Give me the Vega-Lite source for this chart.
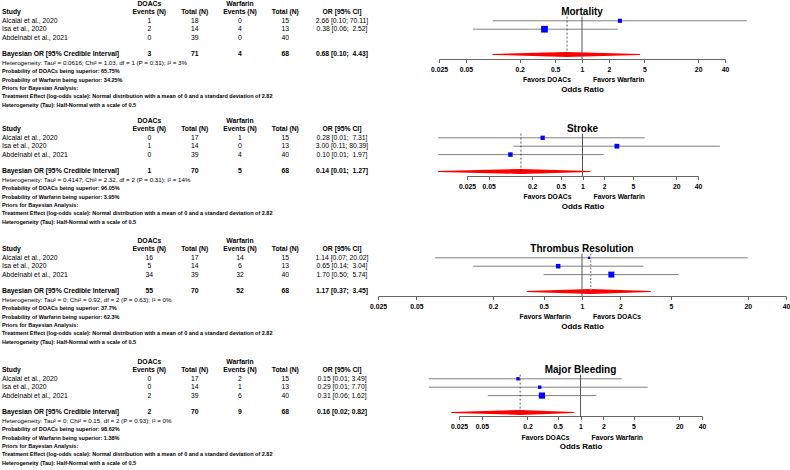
{
"$schema": "https://vega.github.io/schema/vega-lite/v6.json",
"padding": 0,
"background": "white",
"bounds": "flush",
"spacing": 0,
"datasets": {
"hdr": [
{"row":0,"E":"DOACs","F":"Warfarin"},
{"row":1,"S":"Study","E":"Events (N)","T":"Total (N)","F":"Events (N)","U":"Total (N)","C":"OR [95% CI]"}
],
"tbl": [
{"p":1,"row":2,"S":"Alcalai et al., 2020","E":1,"T":18,"F":0,"U":15,"C":"2.66 [0.10; 70.11]"},
{"p":1,"row":3,"S":"Isa et al., 2020","E":2,"T":14,"F":4,"U":13,"C":"0.38 [0.06; \u00a02.52]"},
{"p":1,"row":4,"S":"Abdelnabi et al., 2021","E":0,"T":39,"F":0,"U":40},
{"p":1,"row":6,"S":"Bayesian OR [95% Credible Interval]","E":3,"T":71,"F":4,"U":68,"C":"0.68 [0.10; \u00a04.43]"},
{"p":1,"row":7,"S":"Heterogeneity: Tau² = 0.0616; Chi² = 1.03, df = 1 (P = 0.31); I² = 3%"},
{"p":1,"row":8,"S":"Probability of DOACs being superior: 65.75%"},
{"p":1,"row":9,"S":"Probability of Warfarin being superior: 34.25%"},
{"p":2,"row":2,"S":"Alcalai et al., 2020","E":0,"T":17,"F":1,"U":15,"C":"0.28 [0.01; \u00a07.31]"},
{"p":2,"row":3,"S":"Isa et al., 2020","E":1,"T":14,"F":0,"U":13,"C":"3.00 [0.11; 80.39]"},
{"p":2,"row":4,"S":"Abdelnabi et al., 2021","E":0,"T":39,"F":4,"U":40,"C":"0.10 [0.01; \u00a01.97]"},
{"p":2,"row":6,"S":"Bayesian OR [95% Credible Interval]","E":1,"T":70,"F":5,"U":68,"C":"0.14 [0.01; \u00a01.27]"},
{"p":2,"row":7,"S":"Heterogeneity: Tau² = 0.4147; Chi² = 2.32, df = 2 (P = 0.31); I² = 14%"},
{"p":2,"row":8,"S":"Probability of DOACs being superior: 96.05%"},
{"p":2,"row":9,"S":"Probability of Warfarin being superior: 3.95%"},
{"p":3,"row":2,"S":"Alcalai et al., 2020","E":16,"T":17,"F":14,"U":15,"C":"1.14 [0.07; 20.02]"},
{"p":3,"row":3,"S":"Isa et al., 2020","E":5,"T":14,"F":6,"U":13,"C":"0.65 [0.14; \u00a03.04]"},
{"p":3,"row":4,"S":"Abdelnabi et al., 2021","E":34,"T":39,"F":32,"U":40,"C":"1.70 [0.50; \u00a05.74]"},
{"p":3,"row":6,"S":"Bayesian OR [95% Credible Interval]","E":55,"T":70,"F":52,"U":68,"C":"1.17 [0.37; \u00a03.45]"},
{"p":3,"row":7,"S":"Heterogeneity: Tau² = 0; Chi² = 0.92, df = 2 (P = 0.63); I² = 0%"},
{"p":3,"row":8,"S":"Probability of DOACs being superior: 37.7%"},
{"p":3,"row":9,"S":"Probability of Warfarin being superior: 62.3%"},
{"p":4,"row":2,"S":"Alcalai et al., 2020","E":0,"T":17,"F":2,"U":15,"C":"0.15 [0.01; 3.49]"},
{"p":4,"row":3,"S":"Isa et al., 2020","E":0,"T":14,"F":1,"U":13,"C":"0.29 [0.01; 7.70]"},
{"p":4,"row":4,"S":"Abdelnabi et al., 2021","E":2,"T":39,"F":6,"U":40,"C":"0.31 [0.06; 1.62]"},
{"p":4,"row":6,"S":"Bayesian OR [95% Credible Interval]","E":2,"T":70,"F":9,"U":68,"C":"0.16 [0.02; 0.82]"},
{"p":4,"row":7,"S":"Heterogeneity: Tau² = 0; Chi² = 0.15, df = 2 (P = 0.93); I² = 0%"},
{"p":4,"row":8,"S":"Probability of DOACs being superior: 98.62%"},
{"p":4,"row":9,"S":"Probability of Warfarin being superior: 1.38%"}
],
"foot": [
{"row":10,"S":"Priors for Bayesian Analysis:"},
{"row":11,"S":"Treatment Effect (log-odds scale): Normal distribution with a mean of 0 and a standard deviation of 2.82"},
{"row":12,"S":"Heterogeneity (Tau): Half-Normal with a scale of 0.5"}
],
"studies": [
{"p":1,"row":2,"or":2.66,"lo":0.10,"hi":70.11,"w":27},
{"p":1,"row":3,"or":0.38,"lo":0.06,"hi":2.52,"w":73},
{"p":2,"row":2,"or":0.28,"lo":0.01,"hi":7.31,"w":30},
{"p":2,"row":3,"or":3.00,"lo":0.11,"hi":80.39,"w":37},
{"p":2,"row":4,"or":0.10,"lo":0.01,"hi":1.97,"w":33},
{"p":3,"row":2,"or":1.14,"lo":0.07,"hi":20.02,"w":9},
{"p":3,"row":3,"or":0.65,"lo":0.14,"hi":3.04,"w":33},
{"p":3,"row":4,"or":1.70,"lo":0.50,"hi":5.74,"w":58},
{"p":4,"row":2,"or":0.15,"lo":0.01,"hi":3.49,"w":19},
{"p":4,"row":3,"or":0.29,"lo":0.01,"hi":7.70,"w":19},
{"p":4,"row":4,"or":0.31,"lo":0.06,"hi":1.62,"w":62}
],
"pooled": [
{"p":1,"row":6,"outcome":"Mortality","or":0.68,"lo":0.10,"hi":4.43,"favL":"Favors DOACs","favR":"Favors Warfarin"},
{"p":2,"row":6,"outcome":"Stroke","or":0.14,"lo":0.01,"hi":1.27,"favL":"Favors DOACs","favR":"Favors Warfarin"},
{"p":3,"row":6,"outcome":"Thrombus Resolution","or":1.17,"lo":0.37,"hi":3.45,"favL":"Favors Warfarin","favR":"Favors DOACs"},
{"p":4,"row":6,"outcome":"Major Bleeding","or":0.16,"lo":0.02,"hi":0.82,"favL":"Favors DOACs","favR":"Favors Warfarin"}
]
},
"vconcat": [
{
"width": 790, "height": 117,
"resolve": {"scale": {"x": "independent"}},
"layer": [
{"layer": [
{"data":{"name":"hdr"},"transform":[{"filter":"datum.S != null"}],"mark":{"type":"text","align":"left","fontWeight":"bold","fontSize":6.8},"encoding":{"x":{"datum":"S","type":"nominal","scale":{"type":"point","domain":["S","a","b","c","d","e","f","g","h","i","j","k","l","E","m","n","o","T","p","q","r","F","s","t","u","U","v","w","x","y","C"],"range":[2,342],"padding":0},"axis":null},"y":{"field":"row","type":"quantitative","scale":{"domain":[0,12],"range":[4,104.8],"nice":false,"zero":false},"axis":null},"text":{"field":"S","type":"nominal"}}},
{"data":{"name":"hdr"},"transform":[{"fold":["E","T","F","U","C"],"as":["col","txt"]},{"filter":"datum.txt != null"}],"mark":{"type":"text","fontWeight":"bold","fontSize":6.8},"encoding":{"x":{"field":"col","type":"nominal","scale":{"type":"point","domain":["S","a","b","c","d","e","f","g","h","i","j","k","l","E","m","n","o","T","p","q","r","F","s","t","u","U","v","w","x","y","C"],"range":[2,342],"padding":0},"axis":null},"y":{"field":"row","type":"quantitative","scale":{"domain":[0,12],"range":[4,104.8],"nice":false,"zero":false},"axis":null},"text":{"field":"txt","type":"nominal"}}},
{"data":{"name":"tbl"},"transform":[{"filter":"datum.p == 1 && datum.row < 5"}],"mark":{"type":"text","align":"left","fontSize":6.8},"encoding":{"x":{"datum":"S","type":"nominal","scale":{"type":"point","domain":["S","a","b","c","d","e","f","g","h","i","j","k","l","E","m","n","o","T","p","q","r","F","s","t","u","U","v","w","x","y","C"],"range":[2,342],"padding":0},"axis":null},"y":{"field":"row","type":"quantitative","scale":{"domain":[0,12],"range":[4,104.8],"nice":false,"zero":false},"axis":null},"text":{"field":"S","type":"nominal"}}},
{"data":{"name":"tbl"},"transform":[{"filter":"datum.p == 1 && datum.row < 5"},{"fold":["E","T","F","U","C"],"as":["col","txt"]},{"filter":"datum.txt != null"}],"mark":{"type":"text","fontSize":6.8},"encoding":{"x":{"field":"col","type":"nominal","scale":{"type":"point","domain":["S","a","b","c","d","e","f","g","h","i","j","k","l","E","m","n","o","T","p","q","r","F","s","t","u","U","v","w","x","y","C"],"range":[2,342],"padding":0},"axis":null},"y":{"field":"row","type":"quantitative","scale":{"domain":[0,12],"range":[4,104.8],"nice":false,"zero":false},"axis":null},"text":{"field":"txt","type":"nominal"}}},
{"data":{"name":"tbl"},"transform":[{"filter":"datum.p == 1 && datum.row == 6"}],"mark":{"type":"text","align":"left","fontWeight":"bold","fontSize":6.8},"encoding":{"x":{"datum":"S","type":"nominal","scale":{"type":"point","domain":["S","a","b","c","d","e","f","g","h","i","j","k","l","E","m","n","o","T","p","q","r","F","s","t","u","U","v","w","x","y","C"],"range":[2,342],"padding":0},"axis":null},"y":{"field":"row","type":"quantitative","scale":{"domain":[0,12],"range":[4,104.8],"nice":false,"zero":false},"axis":null},"text":{"field":"S","type":"nominal"}}},
{"data":{"name":"tbl"},"transform":[{"filter":"datum.p == 1 && datum.row == 6"},{"fold":["E","T","F","U","C"],"as":["col","txt"]},{"filter":"datum.txt != null"}],"mark":{"type":"text","fontWeight":"bold","fontSize":6.8},"encoding":{"x":{"field":"col","type":"nominal","scale":{"type":"point","domain":["S","a","b","c","d","e","f","g","h","i","j","k","l","E","m","n","o","T","p","q","r","F","s","t","u","U","v","w","x","y","C"],"range":[2,342],"padding":0},"axis":null},"y":{"field":"row","type":"quantitative","scale":{"domain":[0,12],"range":[4,104.8],"nice":false,"zero":false},"axis":null},"text":{"field":"txt","type":"nominal"}}},
{"data":{"name":"tbl"},"transform":[{"filter":"datum.p == 1 && datum.row == 7"}],"mark":{"type":"text","align":"left","fontSize":6.2},"encoding":{"x":{"datum":"S","type":"nominal","scale":{"type":"point","domain":["S","a","b","c","d","e","f","g","h","i","j","k","l","E","m","n","o","T","p","q","r","F","s","t","u","U","v","w","x","y","C"],"range":[2,342],"padding":0},"axis":null},"y":{"field":"row","type":"quantitative","scale":{"domain":[0,12],"range":[4,104.8],"nice":false,"zero":false},"axis":null},"text":{"field":"S","type":"nominal"}}},
{"data":{"name":"tbl"},"transform":[{"filter":"datum.p == 1 && datum.row > 7"}],"mark":{"type":"text","align":"left","fontWeight":"bold","fontSize":5.5},"encoding":{"x":{"datum":"S","type":"nominal","scale":{"type":"point","domain":["S","a","b","c","d","e","f","g","h","i","j","k","l","E","m","n","o","T","p","q","r","F","s","t","u","U","v","w","x","y","C"],"range":[2,342],"padding":0},"axis":null},"y":{"field":"row","type":"quantitative","scale":{"domain":[0,12],"range":[4,104.8],"nice":false,"zero":false},"axis":null},"text":{"field":"S","type":"nominal"}}},
{"data":{"name":"foot"},"mark":{"type":"text","align":"left","fontWeight":"bold","fontSize":5.5},"encoding":{"x":{"datum":"S","type":"nominal","scale":{"type":"point","domain":["S","a","b","c","d","e","f","g","h","i","j","k","l","E","m","n","o","T","p","q","r","F","s","t","u","U","v","w","x","y","C"],"range":[2,342],"padding":0},"axis":null},"y":{"field":"row","type":"quantitative","scale":{"domain":[0,12],"range":[4,104.8],"nice":false,"zero":false},"axis":null},"text":{"field":"S","type":"nominal"}}}
]},
{"layer": [
{"data":{"name":"studies"},"transform":[{"filter":"datum.p == 1"}],"mark":{"type":"rule","color":"#808080"},"encoding":{"x":{"field":"lo","type":"quantitative","scale":{"type":"log","domain":[0.025,40],"range":[439,725],"nice":false},"axis":{"orient":"bottom","offset":-58,"values":[0.025,0.05,0.2,0.5,1,2,5,20,40],"format":"~g","title":"Odds Ratio"}},"x2":{"field":"hi"},"y":{"field":"row","type":"quantitative","scale":{"domain":[0,12],"range":[4,104.8],"nice":false,"zero":false},"axis":null}}},
{"data":{"name":"studies"},"transform":[{"filter":"datum.p == 1"}],"mark":{"type":"point","shape":"square","filled":true,"color":"#0000ff","opacity":1},"encoding":{"x":{"field":"or","type":"quantitative","scale":{"type":"log","domain":[0.025,40],"range":[439,725],"nice":false}},"y":{"field":"row","type":"quantitative","scale":{"domain":[0,12],"range":[4,104.8],"nice":false,"zero":false},"axis":null},"size":{"field":"w","type":"quantitative","scale":{"zero":true,"nice":false,"range":[0,45]},"legend":null}}},
{"data":{"name":"pooled"},"transform":[{"filter":"datum.p == 1"},{"fold":["lo","or","hi"],"as":["k","v"]}],"mark":{"type":"trail","color":"#ff0000"},"encoding":{"x":{"field":"v","type":"quantitative","scale":{"type":"log","domain":[0.025,40],"range":[439,725],"nice":false}},"y":{"field":"row","type":"quantitative","scale":{"domain":[0,12],"range":[4,104.8],"nice":false,"zero":false},"axis":null},"size":{"condition":{"test":"datum.k === 'or'","value":5},"value":0}}},
{"data":{"name":"pooled"},"transform":[{"filter":"datum.p == 1"}],"mark":{"type":"rule","color":"#333333","strokeDash":[2,2],"strokeWidth":0.8},"encoding":{"x":{"field":"or","type":"quantitative","scale":{"type":"log","domain":[0.025,40],"range":[439,725],"nice":false}},"y":{"datum":1.5,"type":"quantitative","scale":{"domain":[0,12],"range":[4,104.8],"nice":false,"zero":false},"axis":null},"y2":{"datum":6}}},
{"data":{"name":"pooled"},"transform":[{"filter":"datum.p == 1"}],"mark":{"type":"rule","color":"#555555"},"encoding":{"x":{"datum":1,"type":"quantitative","scale":{"type":"log","domain":[0.025,40],"range":[439,725],"nice":false}},"y":{"datum":1.5,"type":"quantitative","scale":{"domain":[0,12],"range":[4,104.8],"nice":false,"zero":false},"axis":null},"y2":{"datum":6.55}}},
{"data":{"name":"pooled"},"transform":[{"filter":"datum.p == 1"}],"mark":{"type":"text","fontSize":10,"fontWeight":"bold"},"encoding":{"x":{"datum":1,"type":"quantitative","scale":{"type":"log","domain":[0.025,40],"range":[439,725],"nice":false}},"y":{"datum":1,"type":"quantitative","scale":{"domain":[0,12],"range":[4,104.8],"nice":false,"zero":false},"axis":null},"text":{"field":"outcome","type":"nominal"}}},
{"data":{"name":"pooled"},"transform":[{"filter":"datum.p == 1"}],"mark":{"type":"text","align":"right","dx":-11,"fontSize":6.8,"fontWeight":"bold"},"encoding":{"x":{"datum":1,"type":"quantitative","scale":{"type":"log","domain":[0.025,40],"range":[439,725],"nice":false}},"y":{"datum":9,"type":"quantitative","scale":{"domain":[0,12],"range":[4,104.8],"nice":false,"zero":false},"axis":null},"text":{"field":"favL","type":"nominal"}}},
{"data":{"name":"pooled"},"transform":[{"filter":"datum.p == 1"}],"mark":{"type":"text","align":"left","dx":11,"fontSize":6.8,"fontWeight":"bold"},"encoding":{"x":{"datum":1,"type":"quantitative","scale":{"type":"log","domain":[0.025,40],"range":[439,725],"nice":false}},"y":{"datum":9,"type":"quantitative","scale":{"domain":[0,12],"range":[4,104.8],"nice":false,"zero":false},"axis":null},"text":{"field":"favR","type":"nominal"}}}
]}
]
},
{
"width": 790, "height": 120,
"resolve": {"scale": {"x": "independent"}},
"layer": [
{"layer": [
{"data":{"name":"hdr"},"transform":[{"filter":"datum.S != null"}],"mark":{"type":"text","align":"left","fontWeight":"bold","fontSize":6.8},"encoding":{"x":{"datum":"S","type":"nominal","scale":{"type":"point","domain":["S","a","b","c","d","e","f","g","h","i","j","k","l","E","m","n","o","T","p","q","r","F","s","t","u","U","v","w","x","y","C"],"range":[2,342],"padding":0},"axis":null},"y":{"field":"row","type":"quantitative","scale":{"domain":[0,12],"range":[4,104.8],"nice":false,"zero":false},"axis":null},"text":{"field":"S","type":"nominal"}}},
{"data":{"name":"hdr"},"transform":[{"fold":["E","T","F","U","C"],"as":["col","txt"]},{"filter":"datum.txt != null"}],"mark":{"type":"text","fontWeight":"bold","fontSize":6.8},"encoding":{"x":{"field":"col","type":"nominal","scale":{"type":"point","domain":["S","a","b","c","d","e","f","g","h","i","j","k","l","E","m","n","o","T","p","q","r","F","s","t","u","U","v","w","x","y","C"],"range":[2,342],"padding":0},"axis":null},"y":{"field":"row","type":"quantitative","scale":{"domain":[0,12],"range":[4,104.8],"nice":false,"zero":false},"axis":null},"text":{"field":"txt","type":"nominal"}}},
{"data":{"name":"tbl"},"transform":[{"filter":"datum.p == 2 && datum.row < 5"}],"mark":{"type":"text","align":"left","fontSize":6.8},"encoding":{"x":{"datum":"S","type":"nominal","scale":{"type":"point","domain":["S","a","b","c","d","e","f","g","h","i","j","k","l","E","m","n","o","T","p","q","r","F","s","t","u","U","v","w","x","y","C"],"range":[2,342],"padding":0},"axis":null},"y":{"field":"row","type":"quantitative","scale":{"domain":[0,12],"range":[4,104.8],"nice":false,"zero":false},"axis":null},"text":{"field":"S","type":"nominal"}}},
{"data":{"name":"tbl"},"transform":[{"filter":"datum.p == 2 && datum.row < 5"},{"fold":["E","T","F","U","C"],"as":["col","txt"]},{"filter":"datum.txt != null"}],"mark":{"type":"text","fontSize":6.8},"encoding":{"x":{"field":"col","type":"nominal","scale":{"type":"point","domain":["S","a","b","c","d","e","f","g","h","i","j","k","l","E","m","n","o","T","p","q","r","F","s","t","u","U","v","w","x","y","C"],"range":[2,342],"padding":0},"axis":null},"y":{"field":"row","type":"quantitative","scale":{"domain":[0,12],"range":[4,104.8],"nice":false,"zero":false},"axis":null},"text":{"field":"txt","type":"nominal"}}},
{"data":{"name":"tbl"},"transform":[{"filter":"datum.p == 2 && datum.row == 6"}],"mark":{"type":"text","align":"left","fontWeight":"bold","fontSize":6.8},"encoding":{"x":{"datum":"S","type":"nominal","scale":{"type":"point","domain":["S","a","b","c","d","e","f","g","h","i","j","k","l","E","m","n","o","T","p","q","r","F","s","t","u","U","v","w","x","y","C"],"range":[2,342],"padding":0},"axis":null},"y":{"field":"row","type":"quantitative","scale":{"domain":[0,12],"range":[4,104.8],"nice":false,"zero":false},"axis":null},"text":{"field":"S","type":"nominal"}}},
{"data":{"name":"tbl"},"transform":[{"filter":"datum.p == 2 && datum.row == 6"},{"fold":["E","T","F","U","C"],"as":["col","txt"]},{"filter":"datum.txt != null"}],"mark":{"type":"text","fontWeight":"bold","fontSize":6.8},"encoding":{"x":{"field":"col","type":"nominal","scale":{"type":"point","domain":["S","a","b","c","d","e","f","g","h","i","j","k","l","E","m","n","o","T","p","q","r","F","s","t","u","U","v","w","x","y","C"],"range":[2,342],"padding":0},"axis":null},"y":{"field":"row","type":"quantitative","scale":{"domain":[0,12],"range":[4,104.8],"nice":false,"zero":false},"axis":null},"text":{"field":"txt","type":"nominal"}}},
{"data":{"name":"tbl"},"transform":[{"filter":"datum.p == 2 && datum.row == 7"}],"mark":{"type":"text","align":"left","fontSize":6.2},"encoding":{"x":{"datum":"S","type":"nominal","scale":{"type":"point","domain":["S","a","b","c","d","e","f","g","h","i","j","k","l","E","m","n","o","T","p","q","r","F","s","t","u","U","v","w","x","y","C"],"range":[2,342],"padding":0},"axis":null},"y":{"field":"row","type":"quantitative","scale":{"domain":[0,12],"range":[4,104.8],"nice":false,"zero":false},"axis":null},"text":{"field":"S","type":"nominal"}}},
{"data":{"name":"tbl"},"transform":[{"filter":"datum.p == 2 && datum.row > 7"}],"mark":{"type":"text","align":"left","fontWeight":"bold","fontSize":5.5},"encoding":{"x":{"datum":"S","type":"nominal","scale":{"type":"point","domain":["S","a","b","c","d","e","f","g","h","i","j","k","l","E","m","n","o","T","p","q","r","F","s","t","u","U","v","w","x","y","C"],"range":[2,342],"padding":0},"axis":null},"y":{"field":"row","type":"quantitative","scale":{"domain":[0,12],"range":[4,104.8],"nice":false,"zero":false},"axis":null},"text":{"field":"S","type":"nominal"}}},
{"data":{"name":"foot"},"mark":{"type":"text","align":"left","fontWeight":"bold","fontSize":5.5},"encoding":{"x":{"datum":"S","type":"nominal","scale":{"type":"point","domain":["S","a","b","c","d","e","f","g","h","i","j","k","l","E","m","n","o","T","p","q","r","F","s","t","u","U","v","w","x","y","C"],"range":[2,342],"padding":0},"axis":null},"y":{"field":"row","type":"quantitative","scale":{"domain":[0,12],"range":[4,104.8],"nice":false,"zero":false},"axis":null},"text":{"field":"S","type":"nominal"}}}
]},
{"layer": [
{"data":{"name":"studies"},"transform":[{"filter":"datum.p == 2"}],"mark":{"type":"rule","color":"#808080"},"encoding":{"x":{"field":"lo","type":"quantitative","scale":{"type":"log","domain":[0.025,40],"range":[467,698],"nice":false},"axis":{"orient":"bottom","offset":-61,"values":[0.025,0.05,0.2,0.5,1,2,5,20,40],"format":"~g","title":"Odds Ratio"}},"x2":{"field":"hi"},"y":{"field":"row","type":"quantitative","scale":{"domain":[0,12],"range":[4,104.8],"nice":false,"zero":false},"axis":null}}},
{"data":{"name":"studies"},"transform":[{"filter":"datum.p == 2"}],"mark":{"type":"point","shape":"square","filled":true,"color":"#0000ff","opacity":1},"encoding":{"x":{"field":"or","type":"quantitative","scale":{"type":"log","domain":[0.025,40],"range":[467,698],"nice":false}},"y":{"field":"row","type":"quantitative","scale":{"domain":[0,12],"range":[4,104.8],"nice":false,"zero":false},"axis":null},"size":{"field":"w","type":"quantitative","scale":{"zero":true,"nice":false,"range":[0,45]},"legend":null}}},
{"data":{"name":"pooled"},"transform":[{"filter":"datum.p == 2"},{"fold":["lo","or","hi"],"as":["k","v"]}],"mark":{"type":"trail","color":"#ff0000"},"encoding":{"x":{"field":"v","type":"quantitative","scale":{"type":"log","domain":[0.025,40],"range":[467,698],"nice":false}},"y":{"field":"row","type":"quantitative","scale":{"domain":[0,12],"range":[4,104.8],"nice":false,"zero":false},"axis":null},"size":{"condition":{"test":"datum.k === 'or'","value":5},"value":0}}},
{"data":{"name":"pooled"},"transform":[{"filter":"datum.p == 2"}],"mark":{"type":"rule","color":"#333333","strokeDash":[2,2],"strokeWidth":0.8},"encoding":{"x":{"field":"or","type":"quantitative","scale":{"type":"log","domain":[0.025,40],"range":[467,698],"nice":false}},"y":{"datum":1.5,"type":"quantitative","scale":{"domain":[0,12],"range":[4,104.8],"nice":false,"zero":false},"axis":null},"y2":{"datum":6}}},
{"data":{"name":"pooled"},"transform":[{"filter":"datum.p == 2"}],"mark":{"type":"rule","color":"#555555"},"encoding":{"x":{"datum":1,"type":"quantitative","scale":{"type":"log","domain":[0.025,40],"range":[467,698],"nice":false}},"y":{"datum":1.5,"type":"quantitative","scale":{"domain":[0,12],"range":[4,104.8],"nice":false,"zero":false},"axis":null},"y2":{"datum":6.55}}},
{"data":{"name":"pooled"},"transform":[{"filter":"datum.p == 2"}],"mark":{"type":"text","fontSize":10,"fontWeight":"bold"},"encoding":{"x":{"datum":1,"type":"quantitative","scale":{"type":"log","domain":[0.025,40],"range":[467,698],"nice":false}},"y":{"datum":1,"type":"quantitative","scale":{"domain":[0,12],"range":[4,104.8],"nice":false,"zero":false},"axis":null},"text":{"field":"outcome","type":"nominal"}}},
{"data":{"name":"pooled"},"transform":[{"filter":"datum.p == 2"}],"mark":{"type":"text","align":"right","dx":-11,"fontSize":6.8,"fontWeight":"bold"},"encoding":{"x":{"datum":1,"type":"quantitative","scale":{"type":"log","domain":[0.025,40],"range":[467,698],"nice":false}},"y":{"datum":9,"type":"quantitative","scale":{"domain":[0,12],"range":[4,104.8],"nice":false,"zero":false},"axis":null},"text":{"field":"favL","type":"nominal"}}},
{"data":{"name":"pooled"},"transform":[{"filter":"datum.p == 2"}],"mark":{"type":"text","align":"left","dx":11,"fontSize":6.8,"fontWeight":"bold"},"encoding":{"x":{"datum":1,"type":"quantitative","scale":{"type":"log","domain":[0.025,40],"range":[467,698],"nice":false}},"y":{"datum":9,"type":"quantitative","scale":{"domain":[0,12],"range":[4,104.8],"nice":false,"zero":false},"axis":null},"text":{"field":"favR","type":"nominal"}}}
]}
]
},
{
"width": 790, "height": 121,
"resolve": {"scale": {"x": "independent"}},
"layer": [
{"layer": [
{"data":{"name":"hdr"},"transform":[{"filter":"datum.S != null"}],"mark":{"type":"text","align":"left","fontWeight":"bold","fontSize":6.8},"encoding":{"x":{"datum":"S","type":"nominal","scale":{"type":"point","domain":["S","a","b","c","d","e","f","g","h","i","j","k","l","E","m","n","o","T","p","q","r","F","s","t","u","U","v","w","x","y","C"],"range":[2,342],"padding":0},"axis":null},"y":{"field":"row","type":"quantitative","scale":{"domain":[0,12],"range":[4,104.8],"nice":false,"zero":false},"axis":null},"text":{"field":"S","type":"nominal"}}},
{"data":{"name":"hdr"},"transform":[{"fold":["E","T","F","U","C"],"as":["col","txt"]},{"filter":"datum.txt != null"}],"mark":{"type":"text","fontWeight":"bold","fontSize":6.8},"encoding":{"x":{"field":"col","type":"nominal","scale":{"type":"point","domain":["S","a","b","c","d","e","f","g","h","i","j","k","l","E","m","n","o","T","p","q","r","F","s","t","u","U","v","w","x","y","C"],"range":[2,342],"padding":0},"axis":null},"y":{"field":"row","type":"quantitative","scale":{"domain":[0,12],"range":[4,104.8],"nice":false,"zero":false},"axis":null},"text":{"field":"txt","type":"nominal"}}},
{"data":{"name":"tbl"},"transform":[{"filter":"datum.p == 3 && datum.row < 5"}],"mark":{"type":"text","align":"left","fontSize":6.8},"encoding":{"x":{"datum":"S","type":"nominal","scale":{"type":"point","domain":["S","a","b","c","d","e","f","g","h","i","j","k","l","E","m","n","o","T","p","q","r","F","s","t","u","U","v","w","x","y","C"],"range":[2,342],"padding":0},"axis":null},"y":{"field":"row","type":"quantitative","scale":{"domain":[0,12],"range":[4,104.8],"nice":false,"zero":false},"axis":null},"text":{"field":"S","type":"nominal"}}},
{"data":{"name":"tbl"},"transform":[{"filter":"datum.p == 3 && datum.row < 5"},{"fold":["E","T","F","U","C"],"as":["col","txt"]},{"filter":"datum.txt != null"}],"mark":{"type":"text","fontSize":6.8},"encoding":{"x":{"field":"col","type":"nominal","scale":{"type":"point","domain":["S","a","b","c","d","e","f","g","h","i","j","k","l","E","m","n","o","T","p","q","r","F","s","t","u","U","v","w","x","y","C"],"range":[2,342],"padding":0},"axis":null},"y":{"field":"row","type":"quantitative","scale":{"domain":[0,12],"range":[4,104.8],"nice":false,"zero":false},"axis":null},"text":{"field":"txt","type":"nominal"}}},
{"data":{"name":"tbl"},"transform":[{"filter":"datum.p == 3 && datum.row == 6"}],"mark":{"type":"text","align":"left","fontWeight":"bold","fontSize":6.8},"encoding":{"x":{"datum":"S","type":"nominal","scale":{"type":"point","domain":["S","a","b","c","d","e","f","g","h","i","j","k","l","E","m","n","o","T","p","q","r","F","s","t","u","U","v","w","x","y","C"],"range":[2,342],"padding":0},"axis":null},"y":{"field":"row","type":"quantitative","scale":{"domain":[0,12],"range":[4,104.8],"nice":false,"zero":false},"axis":null},"text":{"field":"S","type":"nominal"}}},
{"data":{"name":"tbl"},"transform":[{"filter":"datum.p == 3 && datum.row == 6"},{"fold":["E","T","F","U","C"],"as":["col","txt"]},{"filter":"datum.txt != null"}],"mark":{"type":"text","fontWeight":"bold","fontSize":6.8},"encoding":{"x":{"field":"col","type":"nominal","scale":{"type":"point","domain":["S","a","b","c","d","e","f","g","h","i","j","k","l","E","m","n","o","T","p","q","r","F","s","t","u","U","v","w","x","y","C"],"range":[2,342],"padding":0},"axis":null},"y":{"field":"row","type":"quantitative","scale":{"domain":[0,12],"range":[4,104.8],"nice":false,"zero":false},"axis":null},"text":{"field":"txt","type":"nominal"}}},
{"data":{"name":"tbl"},"transform":[{"filter":"datum.p == 3 && datum.row == 7"}],"mark":{"type":"text","align":"left","fontSize":6.2},"encoding":{"x":{"datum":"S","type":"nominal","scale":{"type":"point","domain":["S","a","b","c","d","e","f","g","h","i","j","k","l","E","m","n","o","T","p","q","r","F","s","t","u","U","v","w","x","y","C"],"range":[2,342],"padding":0},"axis":null},"y":{"field":"row","type":"quantitative","scale":{"domain":[0,12],"range":[4,104.8],"nice":false,"zero":false},"axis":null},"text":{"field":"S","type":"nominal"}}},
{"data":{"name":"tbl"},"transform":[{"filter":"datum.p == 3 && datum.row > 7"}],"mark":{"type":"text","align":"left","fontWeight":"bold","fontSize":5.5},"encoding":{"x":{"datum":"S","type":"nominal","scale":{"type":"point","domain":["S","a","b","c","d","e","f","g","h","i","j","k","l","E","m","n","o","T","p","q","r","F","s","t","u","U","v","w","x","y","C"],"range":[2,342],"padding":0},"axis":null},"y":{"field":"row","type":"quantitative","scale":{"domain":[0,12],"range":[4,104.8],"nice":false,"zero":false},"axis":null},"text":{"field":"S","type":"nominal"}}},
{"data":{"name":"foot"},"mark":{"type":"text","align":"left","fontWeight":"bold","fontSize":5.5},"encoding":{"x":{"datum":"S","type":"nominal","scale":{"type":"point","domain":["S","a","b","c","d","e","f","g","h","i","j","k","l","E","m","n","o","T","p","q","r","F","s","t","u","U","v","w","x","y","C"],"range":[2,342],"padding":0},"axis":null},"y":{"field":"row","type":"quantitative","scale":{"domain":[0,12],"range":[4,104.8],"nice":false,"zero":false},"axis":null},"text":{"field":"S","type":"nominal"}}}
]},
{"layer": [
{"data":{"name":"studies"},"transform":[{"filter":"datum.p == 3"}],"mark":{"type":"rule","color":"#808080"},"encoding":{"x":{"field":"lo","type":"quantitative","scale":{"type":"log","domain":[0.025,40],"range":[378,786],"nice":false},"axis":{"orient":"bottom","offset":-62,"values":[0.025,0.05,0.2,0.5,1,2,5,20,40],"format":"~g","title":"Odds Ratio"}},"x2":{"field":"hi"},"y":{"field":"row","type":"quantitative","scale":{"domain":[0,12],"range":[4,104.8],"nice":false,"zero":false},"axis":null}}},
{"data":{"name":"studies"},"transform":[{"filter":"datum.p == 3"}],"mark":{"type":"point","shape":"square","filled":true,"color":"#0000ff","opacity":1},"encoding":{"x":{"field":"or","type":"quantitative","scale":{"type":"log","domain":[0.025,40],"range":[378,786],"nice":false}},"y":{"field":"row","type":"quantitative","scale":{"domain":[0,12],"range":[4,104.8],"nice":false,"zero":false},"axis":null},"size":{"field":"w","type":"quantitative","scale":{"zero":true,"nice":false,"range":[0,45]},"legend":null}}},
{"data":{"name":"pooled"},"transform":[{"filter":"datum.p == 3"},{"fold":["lo","or","hi"],"as":["k","v"]}],"mark":{"type":"trail","color":"#ff0000"},"encoding":{"x":{"field":"v","type":"quantitative","scale":{"type":"log","domain":[0.025,40],"range":[378,786],"nice":false}},"y":{"field":"row","type":"quantitative","scale":{"domain":[0,12],"range":[4,104.8],"nice":false,"zero":false},"axis":null},"size":{"condition":{"test":"datum.k === 'or'","value":5},"value":0}}},
{"data":{"name":"pooled"},"transform":[{"filter":"datum.p == 3"}],"mark":{"type":"rule","color":"#999999","strokeDash":[2,1.5],"strokeWidth":1.5},"encoding":{"x":{"field":"or","type":"quantitative","scale":{"type":"log","domain":[0.025,40],"range":[378,786],"nice":false}},"y":{"datum":1.5,"type":"quantitative","scale":{"domain":[0,12],"range":[4,104.8],"nice":false,"zero":false},"axis":null},"y2":{"datum":6}}},
{"data":{"name":"pooled"},"transform":[{"filter":"datum.p == 3"}],"mark":{"type":"rule","color":"#555555"},"encoding":{"x":{"datum":1,"type":"quantitative","scale":{"type":"log","domain":[0.025,40],"range":[378,786],"nice":false}},"y":{"datum":1.5,"type":"quantitative","scale":{"domain":[0,12],"range":[4,104.8],"nice":false,"zero":false},"axis":null},"y2":{"datum":6.55}}},
{"data":{"name":"pooled"},"transform":[{"filter":"datum.p == 3"}],"mark":{"type":"text","fontSize":10,"fontWeight":"bold"},"encoding":{"x":{"datum":1,"type":"quantitative","scale":{"type":"log","domain":[0.025,40],"range":[378,786],"nice":false}},"y":{"datum":1,"type":"quantitative","scale":{"domain":[0,12],"range":[4,104.8],"nice":false,"zero":false},"axis":null},"text":{"field":"outcome","type":"nominal"}}},
{"data":{"name":"pooled"},"transform":[{"filter":"datum.p == 3"}],"mark":{"type":"text","align":"right","dx":-11,"fontSize":6.8,"fontWeight":"bold"},"encoding":{"x":{"datum":1,"type":"quantitative","scale":{"type":"log","domain":[0.025,40],"range":[378,786],"nice":false}},"y":{"datum":9,"type":"quantitative","scale":{"domain":[0,12],"range":[4,104.8],"nice":false,"zero":false},"axis":null},"text":{"field":"favL","type":"nominal"}}},
{"data":{"name":"pooled"},"transform":[{"filter":"datum.p == 3"}],"mark":{"type":"text","align":"left","dx":11,"fontSize":6.8,"fontWeight":"bold"},"encoding":{"x":{"datum":1,"type":"quantitative","scale":{"type":"log","domain":[0.025,40],"range":[378,786],"nice":false}},"y":{"datum":9,"type":"quantitative","scale":{"domain":[0,12],"range":[4,104.8],"nice":false,"zero":false},"axis":null},"text":{"field":"favR","type":"nominal"}}}
]}
]
},
{
"width": 790, "height": 112,
"resolve": {"scale": {"x": "independent"}},
"layer": [
{"layer": [
{"data":{"name":"hdr"},"transform":[{"filter":"datum.S != null"}],"mark":{"type":"text","align":"left","fontWeight":"bold","fontSize":6.8},"encoding":{"x":{"datum":"S","type":"nominal","scale":{"type":"point","domain":["S","a","b","c","d","e","f","g","h","i","j","k","l","E","m","n","o","T","p","q","r","F","s","t","u","U","v","w","x","y","C"],"range":[2,342],"padding":0},"axis":null},"y":{"field":"row","type":"quantitative","scale":{"domain":[0,12],"range":[4,104.8],"nice":false,"zero":false},"axis":null},"text":{"field":"S","type":"nominal"}}},
{"data":{"name":"hdr"},"transform":[{"fold":["E","T","F","U","C"],"as":["col","txt"]},{"filter":"datum.txt != null"}],"mark":{"type":"text","fontWeight":"bold","fontSize":6.8},"encoding":{"x":{"field":"col","type":"nominal","scale":{"type":"point","domain":["S","a","b","c","d","e","f","g","h","i","j","k","l","E","m","n","o","T","p","q","r","F","s","t","u","U","v","w","x","y","C"],"range":[2,342],"padding":0},"axis":null},"y":{"field":"row","type":"quantitative","scale":{"domain":[0,12],"range":[4,104.8],"nice":false,"zero":false},"axis":null},"text":{"field":"txt","type":"nominal"}}},
{"data":{"name":"tbl"},"transform":[{"filter":"datum.p == 4 && datum.row < 5"}],"mark":{"type":"text","align":"left","fontSize":6.8},"encoding":{"x":{"datum":"S","type":"nominal","scale":{"type":"point","domain":["S","a","b","c","d","e","f","g","h","i","j","k","l","E","m","n","o","T","p","q","r","F","s","t","u","U","v","w","x","y","C"],"range":[2,342],"padding":0},"axis":null},"y":{"field":"row","type":"quantitative","scale":{"domain":[0,12],"range":[4,104.8],"nice":false,"zero":false},"axis":null},"text":{"field":"S","type":"nominal"}}},
{"data":{"name":"tbl"},"transform":[{"filter":"datum.p == 4 && datum.row < 5"},{"fold":["E","T","F","U","C"],"as":["col","txt"]},{"filter":"datum.txt != null"}],"mark":{"type":"text","fontSize":6.8},"encoding":{"x":{"field":"col","type":"nominal","scale":{"type":"point","domain":["S","a","b","c","d","e","f","g","h","i","j","k","l","E","m","n","o","T","p","q","r","F","s","t","u","U","v","w","x","y","C"],"range":[2,342],"padding":0},"axis":null},"y":{"field":"row","type":"quantitative","scale":{"domain":[0,12],"range":[4,104.8],"nice":false,"zero":false},"axis":null},"text":{"field":"txt","type":"nominal"}}},
{"data":{"name":"tbl"},"transform":[{"filter":"datum.p == 4 && datum.row == 6"}],"mark":{"type":"text","align":"left","fontWeight":"bold","fontSize":6.8},"encoding":{"x":{"datum":"S","type":"nominal","scale":{"type":"point","domain":["S","a","b","c","d","e","f","g","h","i","j","k","l","E","m","n","o","T","p","q","r","F","s","t","u","U","v","w","x","y","C"],"range":[2,342],"padding":0},"axis":null},"y":{"field":"row","type":"quantitative","scale":{"domain":[0,12],"range":[4,104.8],"nice":false,"zero":false},"axis":null},"text":{"field":"S","type":"nominal"}}},
{"data":{"name":"tbl"},"transform":[{"filter":"datum.p == 4 && datum.row == 6"},{"fold":["E","T","F","U","C"],"as":["col","txt"]},{"filter":"datum.txt != null"}],"mark":{"type":"text","fontWeight":"bold","fontSize":6.8},"encoding":{"x":{"field":"col","type":"nominal","scale":{"type":"point","domain":["S","a","b","c","d","e","f","g","h","i","j","k","l","E","m","n","o","T","p","q","r","F","s","t","u","U","v","w","x","y","C"],"range":[2,342],"padding":0},"axis":null},"y":{"field":"row","type":"quantitative","scale":{"domain":[0,12],"range":[4,104.8],"nice":false,"zero":false},"axis":null},"text":{"field":"txt","type":"nominal"}}},
{"data":{"name":"tbl"},"transform":[{"filter":"datum.p == 4 && datum.row == 7"}],"mark":{"type":"text","align":"left","fontSize":6.2},"encoding":{"x":{"datum":"S","type":"nominal","scale":{"type":"point","domain":["S","a","b","c","d","e","f","g","h","i","j","k","l","E","m","n","o","T","p","q","r","F","s","t","u","U","v","w","x","y","C"],"range":[2,342],"padding":0},"axis":null},"y":{"field":"row","type":"quantitative","scale":{"domain":[0,12],"range":[4,104.8],"nice":false,"zero":false},"axis":null},"text":{"field":"S","type":"nominal"}}},
{"data":{"name":"tbl"},"transform":[{"filter":"datum.p == 4 && datum.row > 7"}],"mark":{"type":"text","align":"left","fontWeight":"bold","fontSize":5.5},"encoding":{"x":{"datum":"S","type":"nominal","scale":{"type":"point","domain":["S","a","b","c","d","e","f","g","h","i","j","k","l","E","m","n","o","T","p","q","r","F","s","t","u","U","v","w","x","y","C"],"range":[2,342],"padding":0},"axis":null},"y":{"field":"row","type":"quantitative","scale":{"domain":[0,12],"range":[4,104.8],"nice":false,"zero":false},"axis":null},"text":{"field":"S","type":"nominal"}}},
{"data":{"name":"foot"},"mark":{"type":"text","align":"left","fontWeight":"bold","fontSize":5.5},"encoding":{"x":{"datum":"S","type":"nominal","scale":{"type":"point","domain":["S","a","b","c","d","e","f","g","h","i","j","k","l","E","m","n","o","T","p","q","r","F","s","t","u","U","v","w","x","y","C"],"range":[2,342],"padding":0},"axis":null},"y":{"field":"row","type":"quantitative","scale":{"domain":[0,12],"range":[4,104.8],"nice":false,"zero":false},"axis":null},"text":{"field":"S","type":"nominal"}}}
]},
{"layer": [
{"data":{"name":"studies"},"transform":[{"filter":"datum.p == 4"}],"mark":{"type":"rule","color":"#808080"},"encoding":{"x":{"field":"lo","type":"quantitative","scale":{"type":"log","domain":[0.025,40],"range":[459,702],"nice":false},"axis":{"orient":"bottom","offset":-54,"values":[0.025,0.05,0.2,0.5,1,2,5,20,40],"format":"~g","title":"Odds Ratio"}},"x2":{"field":"hi"},"y":{"field":"row","type":"quantitative","scale":{"domain":[0,12],"range":[4,104.8],"nice":false,"zero":false},"axis":null}}},
{"data":{"name":"studies"},"transform":[{"filter":"datum.p == 4"}],"mark":{"type":"point","shape":"square","filled":true,"color":"#0000ff","opacity":1},"encoding":{"x":{"field":"or","type":"quantitative","scale":{"type":"log","domain":[0.025,40],"range":[459,702],"nice":false}},"y":{"field":"row","type":"quantitative","scale":{"domain":[0,12],"range":[4,104.8],"nice":false,"zero":false},"axis":null},"size":{"field":"w","type":"quantitative","scale":{"zero":true,"nice":false,"range":[0,45]},"legend":null}}},
{"data":{"name":"pooled"},"transform":[{"filter":"datum.p == 4"},{"fold":["lo","or","hi"],"as":["k","v"]}],"mark":{"type":"trail","color":"#ff0000"},"encoding":{"x":{"field":"v","type":"quantitative","scale":{"type":"log","domain":[0.025,40],"range":[459,702],"nice":false}},"y":{"field":"row","type":"quantitative","scale":{"domain":[0,12],"range":[4,104.8],"nice":false,"zero":false},"axis":null},"size":{"condition":{"test":"datum.k === 'or'","value":5},"value":0}}},
{"data":{"name":"pooled"},"transform":[{"filter":"datum.p == 4"}],"mark":{"type":"rule","color":"#333333","strokeDash":[2,2],"strokeWidth":0.8},"encoding":{"x":{"field":"or","type":"quantitative","scale":{"type":"log","domain":[0.025,40],"range":[459,702],"nice":false}},"y":{"datum":1.5,"type":"quantitative","scale":{"domain":[0,12],"range":[4,104.8],"nice":false,"zero":false},"axis":null},"y2":{"datum":6}}},
{"data":{"name":"pooled"},"transform":[{"filter":"datum.p == 4"}],"mark":{"type":"rule","color":"#555555"},"encoding":{"x":{"datum":1,"type":"quantitative","scale":{"type":"log","domain":[0.025,40],"range":[459,702],"nice":false}},"y":{"datum":1.5,"type":"quantitative","scale":{"domain":[0,12],"range":[4,104.8],"nice":false,"zero":false},"axis":null},"y2":{"datum":6.55}}},
{"data":{"name":"pooled"},"transform":[{"filter":"datum.p == 4"}],"mark":{"type":"text","fontSize":10,"fontWeight":"bold"},"encoding":{"x":{"datum":1,"type":"quantitative","scale":{"type":"log","domain":[0.025,40],"range":[459,702],"nice":false}},"y":{"datum":1,"type":"quantitative","scale":{"domain":[0,12],"range":[4,104.8],"nice":false,"zero":false},"axis":null},"text":{"field":"outcome","type":"nominal"}}},
{"data":{"name":"pooled"},"transform":[{"filter":"datum.p == 4"}],"mark":{"type":"text","align":"right","dx":-11,"fontSize":6.8,"fontWeight":"bold"},"encoding":{"x":{"datum":1,"type":"quantitative","scale":{"type":"log","domain":[0.025,40],"range":[459,702],"nice":false}},"y":{"datum":9,"type":"quantitative","scale":{"domain":[0,12],"range":[4,104.8],"nice":false,"zero":false},"axis":null},"text":{"field":"favL","type":"nominal"}}},
{"data":{"name":"pooled"},"transform":[{"filter":"datum.p == 4"}],"mark":{"type":"text","align":"left","dx":11,"fontSize":6.8,"fontWeight":"bold"},"encoding":{"x":{"datum":1,"type":"quantitative","scale":{"type":"log","domain":[0.025,40],"range":[459,702],"nice":false}},"y":{"datum":9,"type":"quantitative","scale":{"domain":[0,12],"range":[4,104.8],"nice":false,"zero":false},"axis":null},"text":{"field":"favR","type":"nominal"}}}
]}
]
}
],
"config": {
"view": {"stroke": null},
"text": {"font": "Liberation Sans", "baseline": "middle", "color": "#000000"},
"axis": {"labelFlush": false, "labelOverlap": false, "grid": false, "domainColor": "#666666", "tickColor": "#666666", "tickSize": 3.5, "labelPadding": 4, "labelFontSize": 6.8, "labelFontWeight": "bold", "labelColor": "#000000", "labelFont": "Liberation Sans", "titleFont": "Liberation Sans", "titleFontSize": 8, "titleFontWeight": "bold", "titleColor": "#000000", "titleY": 30, "titleBaseline": "middle"}
}
}
